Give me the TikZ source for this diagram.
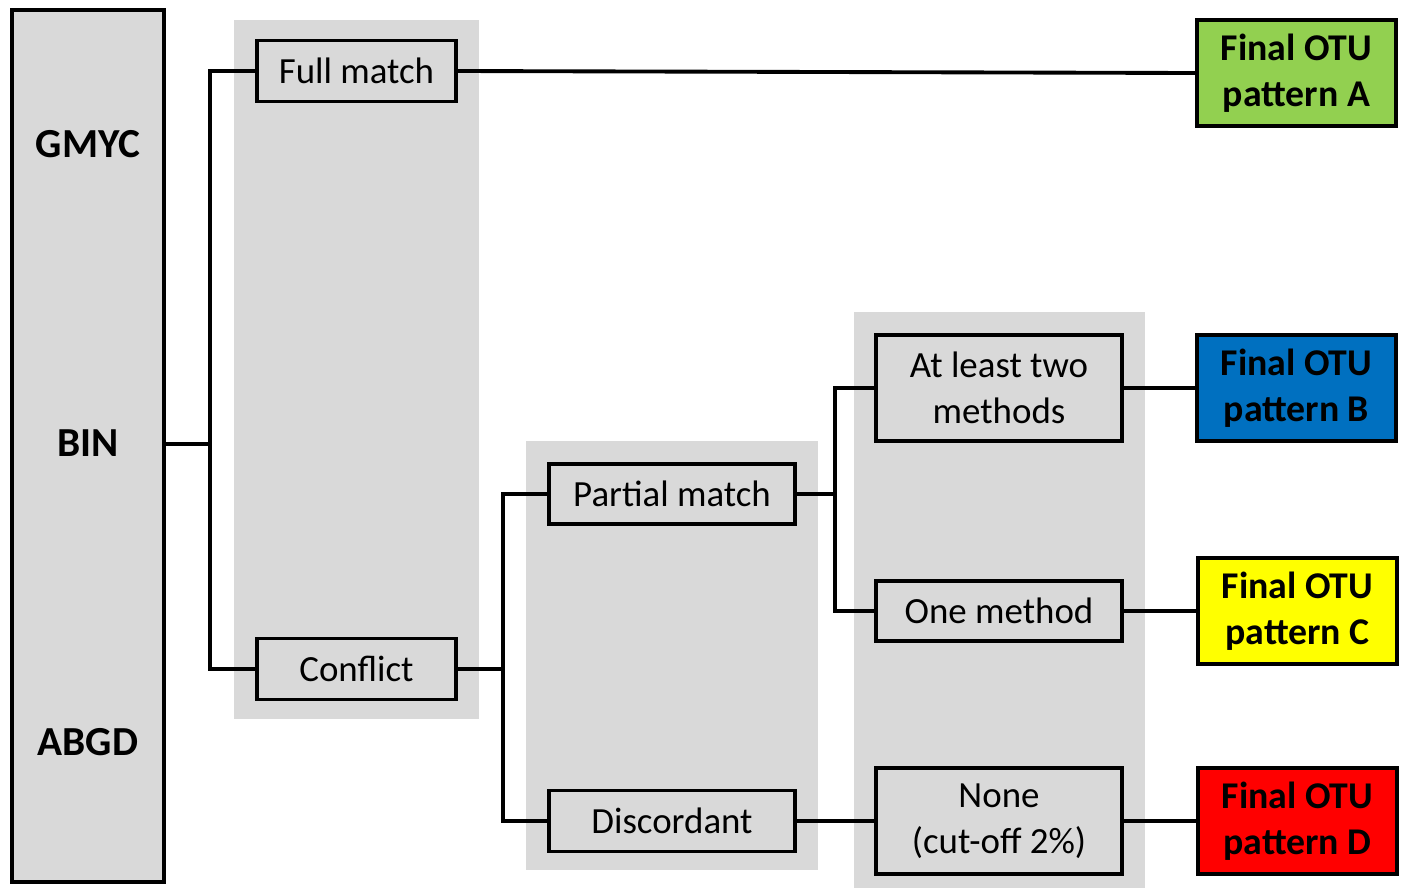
\documentclass[tikz,border=0pt]{standalone}
\usepackage{fontspec}
\setmainfont{Carlito}
\definecolor{panel}{HTML}{D9D9D9}
\definecolor{otuA}{HTML}{92D050}
\definecolor{otuB}{HTML}{0070C0}
\definecolor{otuC}{HTML}{FFFF00}
\definecolor{otuD}{HTML}{FF0000}
\tikzset{
	stagebox/.style={draw, line width=2.2pt, fill=panel, align=center, inner sep=0pt, font=\fontsize{21}{26}\selectfont},
	otubox/.style={stagebox, font=\fontsize{21.5}{26.5}\selectfont\bfseries, minimum width=3.98cm, minimum height=2.12cm},
	methodlabel/.style={font=\fontsize{23.5}{28}\selectfont\bfseries},
	link/.style={line width=2.2pt}
}

\begin{document}
\begin{tikzpicture}[x=0.02cm, y=-0.02cm]
			\useasboundingbox (0,0) rectangle (1401,890);
			% grey panels
			\fill[panel] (234, 20)  rectangle (479, 719);
			\fill[panel] (526, 441) rectangle (818, 870);
			\fill[panel] (854, 312) rectangle (1145,888);
			% methods
			\node[stagebox, minimum width=3.04cm, minimum height=17.44cm] (methods) at (88,446) {};
			\node[methodlabel] at (88,144) {GMYC};
			\node[methodlabel] at (88,443) {BIN};
			\node[methodlabel] at (88,742) {ABGD};
			% first split
			\node[stagebox, minimum width=3.98cm, minimum height=1.22cm] (full)     at (356.5,71)  {Full match};
			\node[stagebox, minimum width=3.98cm, minimum height=1.22cm] (conflict) at (356.5,669) {Conflict};
			% second split
			\node[stagebox, minimum width=4.92cm, minimum height=1.20cm] (partial) at (672,494) {Partial match};
			\node[stagebox, minimum width=4.92cm, minimum height=1.22cm] (discord) at (672,821) {Discordant};
			% third split
			\node[stagebox, minimum width=4.92cm, minimum height=2.12cm] (twomore) at (999,388) {At least two\\methods};
			\node[stagebox, minimum width=4.92cm, minimum height=1.20cm] (onemeth) at (999,611) {One method};
			\node[stagebox, minimum width=4.92cm, minimum height=2.12cm] (nometh)  at (999,821) {None\\(cut-off 2\%)};
			% final patterns
			\node[otubox, fill=otuA] (patA) at (1296.5,73)  {Final OTU\\pattern A};
			\node[otubox, fill=otuB] (patB) at (1296.5,388) {Final OTU\\pattern B};
			\node[otubox, fill=otuC] (patC) at (1297.5,611) {Final OTU\\pattern C};
			\node[otubox, fill=otuD] (patD) at (1297.5,821) {Final OTU\\pattern D};
			% connectors
			\draw[link] (methods.east |- 0,444) -- (210,444);
			\draw[link] (full.west) -| (210,444) |- (conflict.west);
			\draw[link] (full.east) -- (patA.west);
			\draw[link] (conflict.east) -- (503,669);
			\draw[link] (partial.west) -| (503,669) |- (discord.west);
			\draw[link] (partial.east) -- (835,494);
			\draw[link] (twomore.west) -| (835,494) |- (onemeth.west);
			\draw[link] (twomore.east) -- (patB.west);
			\draw[link] (onemeth.east) -- (patC.west);
			\draw[link] (discord.east) -- (nometh.west);
			\draw[link] (nometh.east) -- (patD.west);
		\end{tikzpicture}
\end{document}
